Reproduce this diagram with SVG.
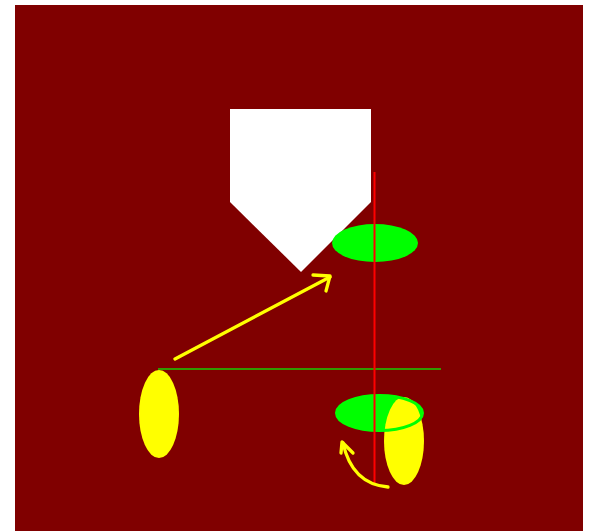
<svg xmlns="http://www.w3.org/2000/svg" width="590" height="531" viewBox="0 0 590 531">
<style>
.arrow{fill:none;stroke:#ffff00;stroke-width:3.3;stroke-linecap:round;stroke-linejoin:round}
.yel{fill:#ffff00}
.grn{fill:#00ff00}
</style>
<rect x="0" y="0" width="590" height="531" fill="#ffffff"/>
<rect x="15" y="5" width="568" height="526" fill="#800000"/>
<g id="pentagon"><polygon points="230,109 371,109 371,202 301,272 230,202" fill="#ffffff"/></g>
<g id="green-top"><ellipse class="grn" cx="375" cy="243" rx="43" ry="19"/></g>
<g id="yellow-left"><ellipse class="yel" cx="159" cy="414" rx="20" ry="44"/></g>
<g id="green-bottom"><ellipse class="grn" cx="379.5" cy="413" rx="43" ry="17.5"/></g>
<g id="yellow-right"><ellipse class="yel" cx="404" cy="441" rx="20" ry="44"/></g>
<g id="green-ring"><ellipse cx="379.5" cy="413" rx="43" ry="17.5" fill="none" stroke="#00ff00" stroke-width="3"/></g>
<g id="connectors">
<line x1="158" y1="369" x2="441" y2="369" stroke="#339900" stroke-width="1.8"/>
<line x1="374.5" y1="172" x2="374.5" y2="483" stroke="#ff0000" stroke-width="2"/>
<path class="arrow" d="M175,359 L330,277"/>
<path class="arrow" d="M313,275 L330,276 L326,291"/>
<path class="arrow" d="M388,487 Q352,484 343,443"/>
<path class="arrow" d="M341,453 L342,442 L353,453"/>
</g>
</svg>
